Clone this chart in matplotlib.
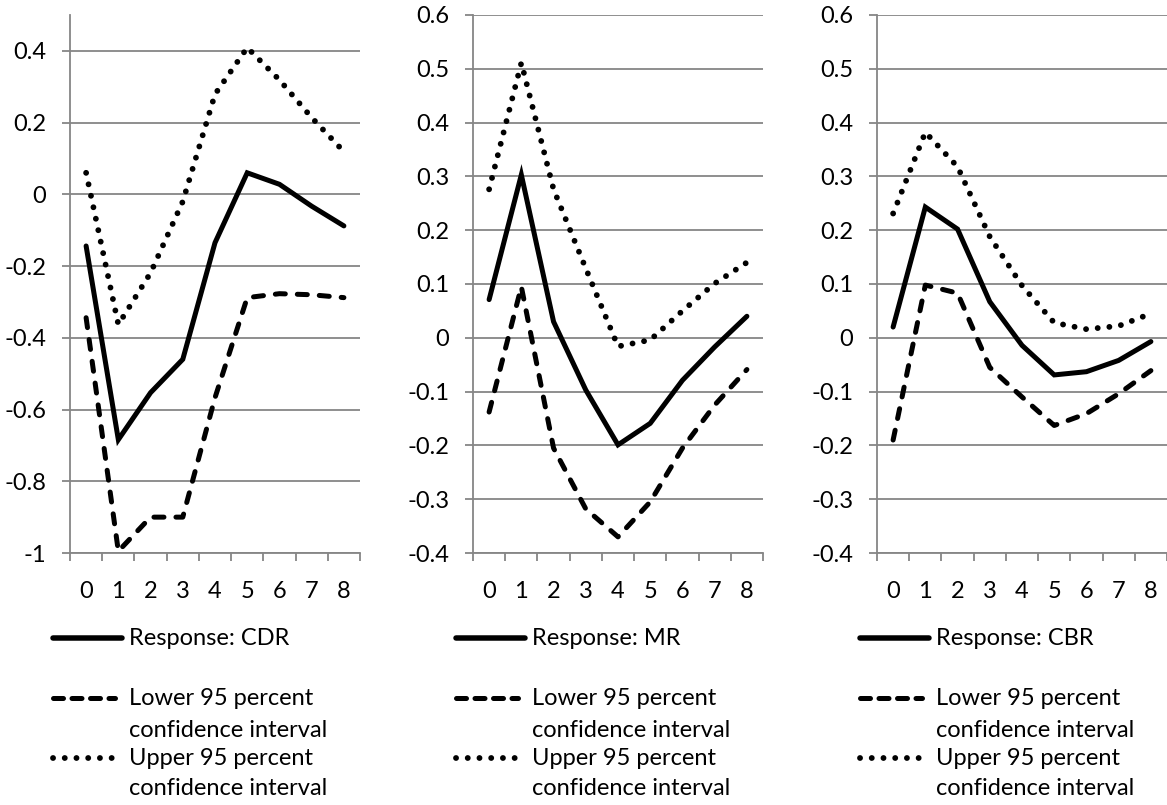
import matplotlib.pyplot as plt
from matplotlib.lines import Line2D

plt.rcParams['font.family'] = ['Lato', 'DejaVu Sans']

# data
periods = [0, 1, 2, 3, 4, 5, 6, 7, 8]
cdr = [-0.144, -0.684, -0.553, -0.460, -0.135, 0.060, 0.028, -0.033, -0.088]
cdr_lo = [-0.344, -0.995, -0.900, -0.900, -0.567, -0.288, -0.277, -0.280, -0.288]
cdr_hi = [0.060, -0.363, -0.219, -0.020, 0.279, 0.409, 0.319, 0.214, 0.119]
mr = [0.071, 0.303, 0.030, -0.097, -0.199, -0.159, -0.079, -0.017, 0.040]
mr_lo = [-0.138, 0.095, -0.205, -0.318, -0.370, -0.305, -0.205, -0.125, -0.059]
mr_hi = [0.276, 0.511, 0.276, 0.129, -0.016, -0.004, 0.050, 0.101, 0.140]
cbr = [0.020, 0.243, 0.202, 0.067, -0.014, -0.069, -0.063, -0.042, -0.007]
cbr_lo = [-0.190, 0.098, 0.083, -0.055, -0.110, -0.163, -0.141, -0.104, -0.061]
cbr_hi = [0.231, 0.382, 0.318, 0.188, 0.097, 0.028, 0.016, 0.022, 0.045]

names = ['CDR', 'MR', 'CBR']
resp = [cdr, mr, cbr]
lower = [cdr_lo, mr_lo, cbr_lo]
upper = [cdr_hi, mr_hi, cbr_hi]
ylims = [(-1, 0.5), (-0.4, 0.6), (-0.4, 0.6)]
yticks = [[-1, -0.8, -0.6, -0.4, -0.2, 0, 0.2, 0.4],
          [-0.4, -0.3, -0.2, -0.1, 0, 0.1, 0.2, 0.3, 0.4, 0.5, 0.6],
          [-0.4, -0.3, -0.2, -0.1, 0, 0.1, 0.2, 0.3, 0.4, 0.5, 0.6]]

W, H = 1167, 805
grey = '#868686'
fs = 17
lw = 3.6
dlw = 4.2
dash = dict(ls=(0, (2.0, 2.4)), dash_capstyle='round')
dot = dict(ls=(0, (0.01, 2.0)), dash_capstyle='round')

fig = plt.figure(figsize=(W / 100, H / 100), dpi=100)


def fx(px):
    return px / W


def fy(py):
    return 1 - py / H


lefts = [70, 473, 877]
for k in range(3):
    x0 = lefts[k]
    ax = fig.add_axes([x0 / W, (H - 553) / H, 290 / W, 538 / H])
    ax.plot(periods, resp[k], '-', c='k', lw=lw, solid_capstyle='round', solid_joinstyle='miter')
    ax.plot(periods, lower[k], c='k', lw=lw, **dash)
    ax.plot(periods, upper[k], c='k', lw=dlw, **dot)

    ax.set_xlim(-0.5, 8.5)
    ax.set_ylim(*ylims[k])
    ax.set_yticks(yticks[k])
    ax.set_yticklabels(['%g' % v for v in yticks[k]])
    ax.set_xticks(periods)
    ax.set_xticks([i - 0.5 for i in range(10)], minor=True)
    ax.grid(axis='y', color=grey, lw=1.3)
    ax.set_axisbelow(True)
    for s in ['top', 'right']:
        ax.spines[s].set_visible(False)
    for s in ['left', 'bottom']:
        ax.spines[s].set_color(grey)
        ax.spines[s].set_linewidth(1.3)
    ax.tick_params(axis='x', which='major', length=0, pad=20, labelsize=fs)
    ax.tick_params(axis='x', which='minor', length=6, width=1.3, color=grey, direction='out')
    ax.tick_params(axis='y', length=6, width=1.3, color=grey, pad=11, labelsize=fs)

    # legend below each panel, laid out like the Excel one
    fig.add_artist(Line2D([fx(x0 - 17), fx(x0 + 52)], [fy(638), fy(638)],
                          c='k', lw=lw * 1.1, solid_capstyle='round'))
    fig.add_artist(Line2D([fx(x0 - 17), fx(x0 + 45)], [fy(698), fy(698)],
                          c='k', lw=lw, ls=(0, (2.0, 1.7)), dash_capstyle='round'))
    fig.add_artist(Line2D([fx(x0 - 17), fx(x0 + 47)], [fy(758), fy(758)],
                          c='k', lw=dlw, **dot))
    fig.text(fx(x0 + 59), fy(638), 'Response: ' + names[k], fontsize=fs, va='center')
    fig.text(fx(x0 + 59), fy(698), 'Lower 95 percent', fontsize=fs, va='center')
    fig.text(fx(x0 + 59), fy(730), 'confidence interval', fontsize=fs, va='center')
    fig.text(fx(x0 + 59), fy(758), 'Upper 95 percent', fontsize=fs, va='center')
    fig.text(fx(x0 + 59), fy(788), 'confidence interval', fontsize=fs, va='center')

fig.savefig('out.png', dpi=100)
plt.close()
